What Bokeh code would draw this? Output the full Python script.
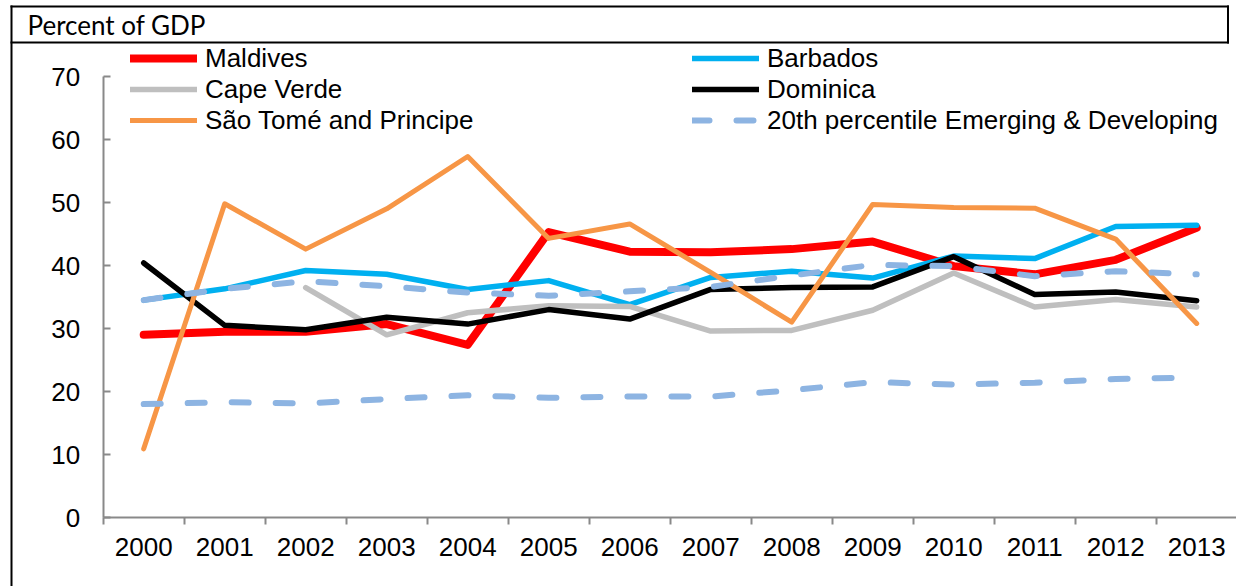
from bokeh.plotting import figure
from bokeh.models import Legend, LegendItem, FixedTicker, BoxAnnotation, Label, Range1d
from bokeh.embed import file_html
from bokeh.resources import INLINE

years = list(range(2000, 2014))
maldives = [29.0, 29.5, 29.5, 30.7, 27.4, 45.3, 42.2, 42.1, 42.6, 43.8, 39.9, 38.6, 40.9, 46.0]
barbados = [34.5, 36.3, 39.2, 38.6, 36.2, 37.6, 33.8, 38.1, 39.1, 38.0, 41.5, 41.1, 46.2, 46.4]
cv_years = list(range(2002, 2014))
cape_verde = [36.5, 29.0, 32.5, 33.6, 33.5, 29.6, 29.7, 32.9, 38.8, 33.4, 34.6, 33.4]
dominica = [40.4, 30.5, 29.8, 31.8, 30.7, 33.0, 31.5, 36.2, 36.5, 36.6, 41.4, 35.4, 35.8, 34.4]
sao_tome = [10.9, 49.8, 42.6, 49.0, 57.3, 44.3, 46.6, 38.9, 31.0, 49.7, 49.2, 49.1, 44.2, 30.8]
pct20 = [18.0, 18.3, 18.1, 18.8, 19.4, 19.0, 19.2, 19.2, 20.2, 21.5, 21.1, 21.4, 22.0, 22.2]
pct80 = [34.5, 36.3, 37.5, 36.7, 35.7, 35.2, 35.9, 36.6, 38.4, 40.1, 39.9, 38.3, 39.1, 38.6]
y_ticks = [0, 10, 20, 30, 40, 50, 60, 70]
unit_label = "Percent of GDP"

FONT = "Liberation Sans"
AXIS_COLOR = "#898989"
W, H = 1236, 586

# pixel layout of the plotting area inside the canvas
AX_LEFT, AX_TOP, AX_BOTTOM = 102.7, 76.0, 517.0
PX_PER_YEAR = 81.0
x0, x1 = years[0] - 0.5, years[-1] + 0.5
y0, y1 = y_ticks[0], y_ticks[-1]
py = (AX_BOTTOM - AX_TOP) / (y1 - y0)
x_range = Range1d(x0 - AX_LEFT / PX_PER_YEAR, x0 + (W - AX_LEFT) / PX_PER_YEAR)
y_range = Range1d(y0 - (H - AX_BOTTOM) / py, y1 + AX_TOP / py)

p = figure(width=W, height=H, output_backend="svg", toolbar_location=None,
           x_range=x_range, y_range=y_range, min_border=0,
           min_border_left=0, min_border_top=0, min_border_right=0, min_border_bottom=0)
p.outline_line_color = None
p.xgrid.visible = False
p.ygrid.visible = False
p.background_fill_color = "white"
p.border_fill_color = "white"

# lines
kw = dict(line_cap="round", line_join="round")
r_mal = p.line(years, maldives, line_color="#FF0000", line_width=8, **kw)
r_bar = p.line(years, barbados, line_color="#00B0F0", line_width=5.5, **kw)
r_cv = p.line(cv_years, cape_verde, line_color="#BFBFBF", line_width=5.5, **kw)
r_dom = p.line(years, dominica, line_color="#000000", line_width=5.5, **kw)
r_stp = p.line(years, sao_tome, line_color="#F79646", line_width=5, **kw)
r_p80 = p.line(years, pct80, line_color="#8DB4E2", line_width=6, line_dash="17 27", line_cap="round")
r_p20 = p.line(years, pct20, line_color="#8DB4E2", line_width=6, line_dash="17 27", line_cap="round")

# axes
xa = p.xaxis[0]
xa.fixed_location = y0
xa.bounds = (x0, x1)
xa.ticker = FixedTicker(ticks=years, minor_ticks=[y - 0.5 for y in years] + [years[-1] + 0.5])
xa.major_tick_in = 0
xa.major_tick_out = 0
xa.minor_tick_in = 0
xa.minor_tick_out = 7
xa.minor_tick_line_color = AXIS_COLOR
xa.minor_tick_line_width = 2
xa.axis_line_color = AXIS_COLOR
xa.axis_line_width = 2
xa.major_label_text_font = FONT
xa.major_label_text_font_size = "26px"
xa.major_label_text_color = "black"
xa.major_label_standoff = 13

ya = p.yaxis[0]
ya.fixed_location = x0
ya.bounds = (y0, y1)
ya.ticker = FixedTicker(ticks=y_ticks, minor_ticks=[])
ya.major_tick_in = 7
ya.major_tick_out = 0
ya.major_tick_line_color = AXIS_COLOR
ya.major_tick_line_width = 2
ya.minor_tick_line_color = None
ya.axis_line_color = AXIS_COLOR
ya.axis_line_width = 2
ya.major_label_text_font = FONT
ya.major_label_text_font_size = "26px"
ya.major_label_text_color = "black"
ya.major_label_standoff = 23

# legends
def make_legend(items, loc):
    return Legend(items=items, location=loc, orientation="vertical",
                  background_fill_alpha=0, border_line_color=None,
                  padding=0, margin=0, spacing=0,
                  label_height=30, glyph_height=30, glyph_width=67, label_standoff=8,
                  label_text_font=FONT, label_text_font_size="26px", label_text_color="black")

LEG_BOTTOM = H - 135.5
leg1 = make_legend([LegendItem(label="Maldives", renderers=[r_mal]),
                    LegendItem(label="Cape Verde", renderers=[r_cv]),
                    LegendItem(label="São Tomé and Principe", renderers=[r_stp])], (130, LEG_BOTTOM))
leg2 = make_legend([LegendItem(label="Barbados", renderers=[r_bar]),
                    LegendItem(label="Dominica", renderers=[r_dom]),
                    LegendItem(label="20th percentile Emerging & Developing", renderers=[r_p20])], (692, LEG_BOTTOM))
p.add_layout(leg1, "center")
p.add_layout(leg2, "center")

# header text
p.add_layout(Label(x=27, y=H - 24.7, x_units="screen", y_units="screen", text=unit_label,
                   text_font="Lato", text_font_size="26px", text_color="black",
                   text_baseline="alphabetic", text_align="left"))

# border lines of the exhibit box
def rule(l, r, t, b):
    p.add_layout(BoxAnnotation(left=l, right=r, top=t, bottom=b,
                               left_units="canvas", right_units="canvas",
                               top_units="canvas", bottom_units="canvas",
                               fill_color="black", fill_alpha=1, line_color=None))

rule(10, 12, 5, H)
rule(10, 1228.5, 5, 7)
rule(10, 1228.5, 41, 43)
rule(1226.5, 1228.5, 5, 43)

open("out.html", "w").write(file_html(p, INLINE))
